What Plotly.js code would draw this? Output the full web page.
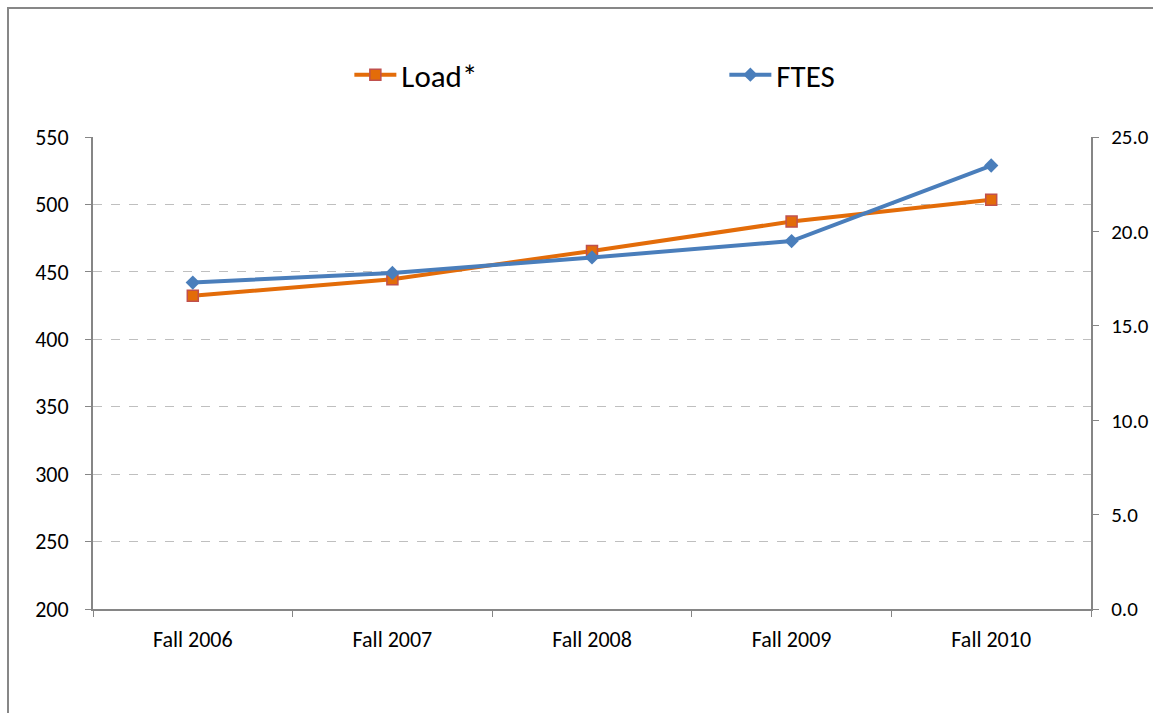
<!DOCTYPE html>
<html>
<head>
<meta charset="utf-8">
<script src="https://cdn.plot.ly/plotly-3.0.1.min.js"></script>
<style>
  html, body { margin: 0; padding: 0; overflow: hidden; background: #fff; }
  #wrap { position: relative; width: 1153px; height: 713px; }
  #chart { position: absolute; left: 0; top: 0; width: 1153px; height: 713px; }
  #frame { position: absolute; left: 7px; top: 7px; width: 1200px; height: 800px;
           border-left: 2px solid #878787; border-top: 2px solid #878787; pointer-events: none; }
</style>
</head>
<body>
<div id="wrap">
  <div id="chart"></div>
  <div id="frame"></div>
</div>
<script>
const categories = ["Fall 2006", "Fall 2007", "Fall 2008", "Fall 2009", "Fall 2010"];
const loadValues = [432.2, 444.6, 465.5, 487.3, 503.5];
const ftesValues = [17.29, 17.80, 18.62, 19.49, 23.49];
const seriesNames = ["Load*", "FTES"];

const FONT = "Calibri, Carlito, 'Noto Sans', sans-serif";
const axisColor = "#868686";

const traces = [
  {
    x: categories, y: loadValues, name: seriesNames[0], type: "scatter", mode: "lines+markers",
    yaxis: "y",
    line: { color: "#E36C09", width: 4 },
    marker: { symbol: "square", size: 11, color: "#E36C09", line: { color: "#C0504D", width: 1.5 } }
  },
  {
    x: categories, y: ftesValues, name: seriesNames[1], type: "scatter", mode: "lines+markers",
    yaxis: "y2",
    line: { color: "#4A7EBB", width: 4 },
    marker: { symbol: "diamond", size: 11, color: "#4A7EBB", line: { color: "#4A7EBB", width: 0 } }
  }
];

const layout = {
  width: 1153, height: 713,
  paper_bgcolor: "#fff", plot_bgcolor: "#fff",
  margin: { l: 93, r: 62, t: 136.5, b: 103.5 },
  font: { family: FONT, color: "#000", size: 22 },
  showlegend: true,
  legend: {
    orientation: "h",
    xref: "container", yref: "container",
    x: 0.303, xanchor: "left",
    y: 1 - 75 / 713, yanchor: "middle",
    font: { family: FONT, size: 31, color: "#000" },
    entrywidth: 318, entrywidthmode: "pixels",
    itemwidth: 42,
    bgcolor: "rgba(0,0,0,0)"
  },
  xaxis: {
    type: "category",
    range: [-0.5, 4.5],
    showgrid: false,
    showline: true, linecolor: axisColor, linewidth: 2,
    ticks: "outside", tickson: "boundaries", ticklen: 6, tickcolor: axisColor, tickwidth: 1,
    tickfont: { family: FONT, size: 22, color: "#000" },
    ticklabelstandoff: 10,
    zeroline: false, fixedrange: true
  },
  yaxis: {
    range: [200, 550], dtick: 50, tick0: 200,
    showgrid: true, gridcolor: "#BFBFBF", gridwidth: 1, griddash: "dash",
    showline: true, linecolor: axisColor, linewidth: 2,
    ticks: "outside", ticklen: 6, tickcolor: axisColor, tickwidth: 1,
    tickfont: { family: FONT, size: 22, color: "#000" },
    ticklabelstandoff: 12,
    zeroline: false, fixedrange: true
  },
  yaxis2: {
    range: [0, 25], dtick: 5, tick0: 0, tickformat: ".1f",
    overlaying: "y", side: "right",
    showgrid: false,
    showline: true, linecolor: axisColor, linewidth: 2,
    ticks: "outside", ticklen: 6, tickcolor: axisColor, tickwidth: 1,
    tickfont: { family: FONT, size: 21, color: "#000" },
    ticklabelstandoff: 8,
    zeroline: false, fixedrange: true
  }
};

Plotly.newPlot("chart", traces, layout, { displayModeBar: false, staticPlot: true });
</script>
</body>
</html>
